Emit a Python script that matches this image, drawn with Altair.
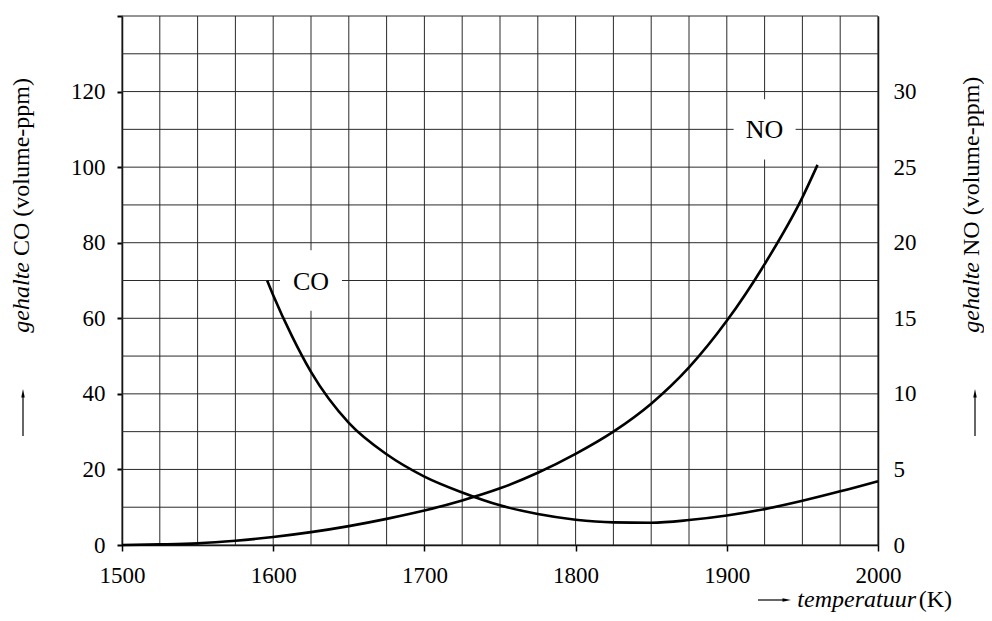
import altair as alt
import pandas as pd

# ---------------- data ----------------
co_temp = [1596, 1600, 1612.5, 1625, 1650, 1675, 1700, 1725, 1750, 1775, 1800,
           1825, 1850, 1875, 1900, 1925, 1950, 1975, 2000]
co_ppm = [70, 66.1, 55.2, 45.8, 32.3, 24.0, 18.1, 13.9, 10.5, 8.2, 6.7,
          6.0, 5.9, 6.6, 7.8, 9.5, 11.7, 14.2, 16.9]

no_temp = [1500, 1525, 1550, 1575, 1600, 1625, 1650, 1675, 1700, 1725, 1750,
           1775, 1800, 1825, 1850, 1875, 1900, 1925, 1950, 1960]
no_ppm = [0, 0.04, 0.11, 0.28, 0.53, 0.85, 1.25, 1.73, 2.28, 2.95, 3.75,
          4.78, 6.03, 7.5, 9.35, 11.75, 14.83, 18.58, 23.0, 25.15]

x_ticks = [1500, 1600, 1700, 1800, 1900, 2000]
co_ticks = [0, 20, 40, 60, 80, 100, 120, 140]
no_ticks = [0, 5, 10, 15, 20, 25, 30]
grid_temp = list(range(1500, 2001, 25))
grid_co = list(range(0, 141, 10))

curve_labels = ["CO", "NO"]
label_temp = [1625, 1925]
label_ppm = [70, 110]

# ---------------- styling ----------------
FONT = "'Liberation Serif', 'Times New Roman', Times, 'DejaVu Serif', serif"
TICK_FS = 23
TITLE_FS = 24
LABEL_FS = 26

xscale = alt.Scale(domain=[1500, 2000], nice=False, zero=False)
coscale = alt.Scale(domain=[0, 140], nice=False)
noscale = alt.Scale(domain=[0, 35], nice=False)

common = dict(title=None, grid=False, labelFont=FONT, labelFontSize=TICK_FS,
              labelColor="black", domainColor="black", domainWidth=1.5,
              tickColor="black")

xaxis = alt.Axis(values=x_ticks, format="d", orient="bottom", tickSize=6,
                 tickWidth=1.5, labelPadding=13, labelFlush=False, **common)
coaxis = alt.Axis(values=co_ticks, orient="left", tickSize=5, tickWidth=2,
                  labelPadding=12, labelExpr="datum.value == 140 ? '' : datum.label",
                  **common)
noaxis = alt.Axis(values=no_ticks, orient="right", ticks=False, labelPadding=15,
                  **common)

GRID = "#2a2a2a"

vgrid = alt.Chart(pd.DataFrame({"t": grid_temp})).mark_rule(
    color=GRID, strokeWidth=1).encode(
    x=alt.X("t:Q", scale=xscale, axis=xaxis))

hgrid = alt.Chart(pd.DataFrame({"v": grid_co})).mark_rule(
    color=GRID, strokeWidth=1).encode(
    y=alt.Y("v:Q", scale=coscale, axis=coaxis))

lab = pd.DataFrame({"name": curve_labels, "t": label_temp, "v": label_ppm})

boxes = alt.Chart(lab).transform_calculate(
    t1="datum.t - 20.5", t2="datum.t + 20.5", v1="datum.v - 8", v2="datum.v + 8"
).mark_rect(fill="white").encode(
    x=alt.X("t1:Q", scale=xscale, axis=xaxis), x2="t2:Q",
    y=alt.Y("v1:Q", scale=coscale, axis=coaxis), y2="v2:Q")

co_line = alt.Chart(pd.DataFrame({"t": co_temp, "v": co_ppm})).mark_line(
    color="black", strokeWidth=2.6, interpolate="monotone").encode(
    x=alt.X("t:Q", scale=xscale, axis=xaxis),
    y=alt.Y("v:Q", scale=coscale, axis=coaxis))

labels = alt.Chart(lab).mark_text(font=FONT, fontSize=LABEL_FS, color="black",
                                  baseline="middle", align="center", dy=1).encode(
    x=alt.X("t:Q", scale=xscale, axis=xaxis),
    y=alt.Y("v:Q", scale=coscale, axis=coaxis),
    text="name:N")

one = pd.DataFrame({"k": [0]})


def txt(s, x, y, angle=0, align="left", italic=False):
    return alt.Chart(one).mark_text(
        text=s, font=FONT, fontSize=TITLE_FS, angle=angle, align=align,
        baseline="middle", color="black",
        fontStyle="italic" if italic else "normal").encode(
        x=alt.value(x), y=alt.value(y))


def vrule(x, y1, y2):
    return alt.Chart(one).mark_rule(color="black", strokeWidth=1.2).encode(
        x=alt.value(x), y=alt.value(y1), y2=alt.value(y2))


def hrule(x1, x2, y):
    return alt.Chart(one).mark_rule(color="black", strokeWidth=1.2).encode(
        x=alt.value(x1), x2=alt.value(x2), y=alt.value(y))


def head(x, y, path):
    return alt.Chart(one).mark_point(shape=path, filled=True, color="black",
                                     size=100, opacity=1).encode(
        x=alt.value(x), y=alt.value(y))


UP = "M0,-1L0.35,0.7L-0.35,0.7Z"
RIGHT = "M1,0L-0.7,0.35L-0.7,-0.35Z"

# left title (rotated)
split = 246
left_title = [
    txt("gehalte", -100, split, angle=270, align="right", italic=True),
    txt("CO (volume-ppm)", -100, split - 6, angle=270, align="left"),
    vrule(-99, 378, 420), head(-99, 378, UP),
]
right_title = [
    txt("gehalte", 850, split, angle=270, align="right", italic=True),
    txt("NO (volume-ppm)", 850, split - 6, angle=270, align="left"),
    vrule(853, 378, 420), head(853, 378, UP),
]
bottom_title = [
    txt("(K)", 830, 584, align="right"),
    txt("temperatuur", 794, 584, align="right", italic=True),
    hrule(636, 664, 584), head(664, 584, RIGHT),
]

inner = alt.layer(vgrid, hgrid, boxes, co_line, labels,
                  *left_title, *right_title, *bottom_title)

no_line = alt.Chart(pd.DataFrame({"t": no_temp, "v": no_ppm})).mark_line(
    color="black", strokeWidth=2.6, interpolate="monotone").encode(
    x=alt.X("t:Q", scale=xscale, axis=xaxis),
    y=alt.Y("v:Q", scale=noscale, axis=noaxis))

chart = alt.layer(inner, no_line).resolve_scale(y="independent").properties(
    width=756, height=529,
    padding={"left": 114, "top": 8, "right": 106, "bottom": 68},
    autosize=alt.AutoSizeParams(type="none"),
    background="white",
).configure_view(stroke=None)

chart.save("out.html", embed_options={"renderer": "svg", "actions": False})
